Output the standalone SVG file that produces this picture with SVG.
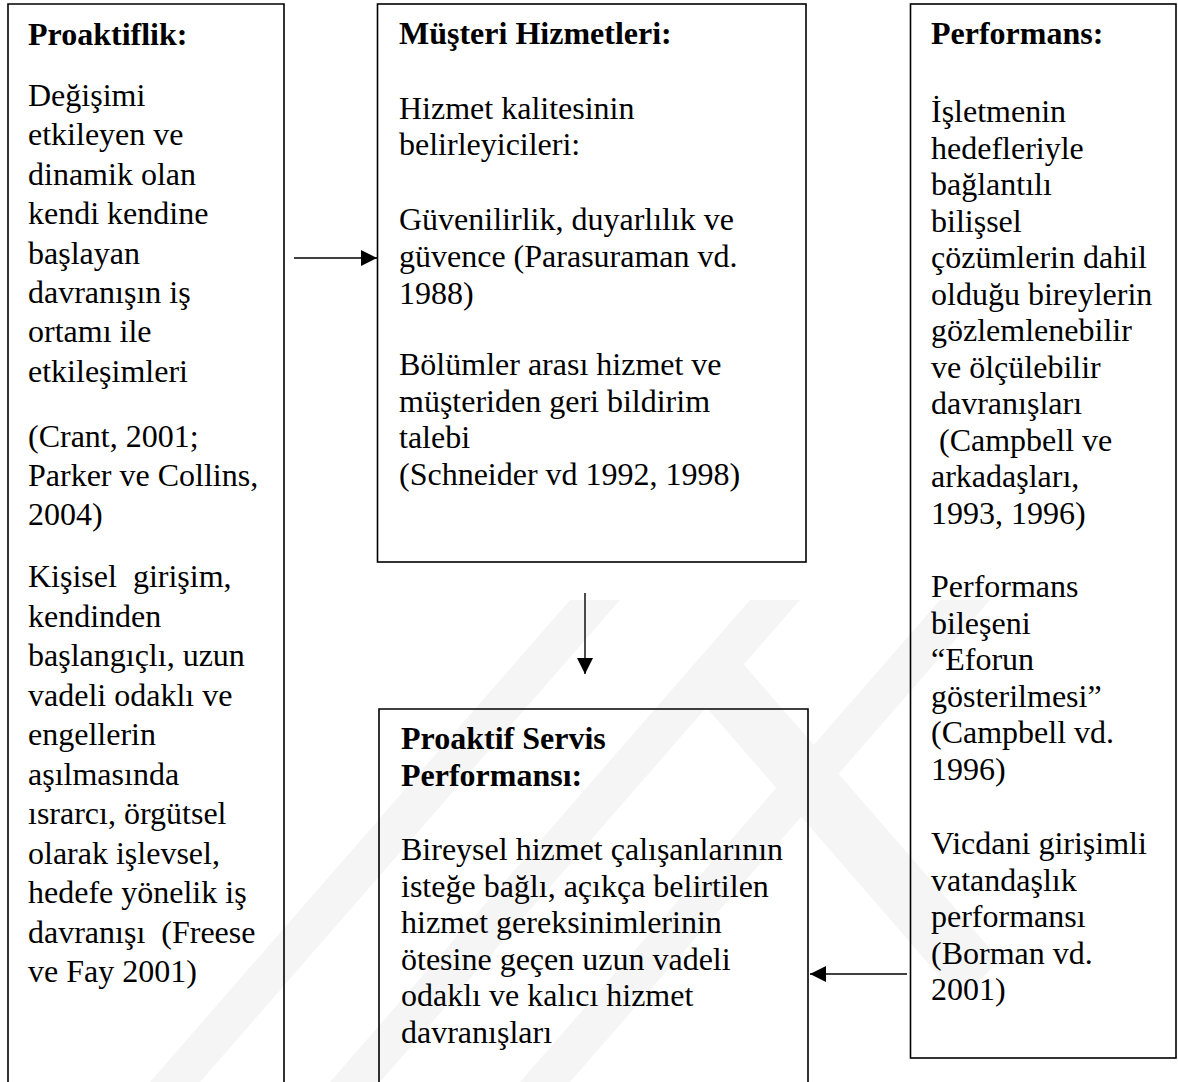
<svg xmlns="http://www.w3.org/2000/svg" width="1178" height="1082" viewBox="0 0 1178 1082">
<defs>
<style>
.box{fill:none;stroke:#000;stroke-width:1.6}
.t{font-family:"Liberation Serif","Times New Roman",serif;font-size:32px;fill:#000;white-space:pre}
.b{font-weight:bold}
.conn{stroke:#000;stroke-width:1.4;fill:none}
.wm{fill:#f5f5f5}
</style>
<marker id="ah" viewBox="0 0 16 16" refX="16" refY="8" markerWidth="16" markerHeight="16" markerUnits="userSpaceOnUse" orient="auto">
<path d="M0,0 L16,8 L0,16 Z" fill="#000"/>
</marker>
</defs>
<rect width="1178" height="1082" fill="#fff"/>
<g id="watermark">
<polygon class="wm" points="150,1082 200,1082 620,600 570,600"/>
<polygon class="wm" points="330,1082 380,1082 800,600 750,600"/>
<polygon class="wm" points="520,1082 570,1082 990,600 940,600"/>
<polygon class="wm" points="700,700 740,660 1000,960 960,1000"/>
</g>
<g id="proaktiflik">
<path class="box" d="M8,1090 V4 H284 V1090"/>
<text class="t b" x="28" y="45">Proaktiflik:</text>
<text class="t" x="28" y="106">Değişimi</text>
<text class="t" x="28" y="145.4">etkileyen ve</text>
<text class="t" x="28" y="184.8">dinamik olan</text>
<text class="t" x="28" y="224.2">kendi kendine</text>
<text class="t" x="28" y="263.6">başlayan</text>
<text class="t" x="28" y="303">davranışın iş</text>
<text class="t" x="28" y="342.4">ortamı ile</text>
<text class="t" x="28" y="381.8">etkileşimleri</text>
<text class="t" x="28" y="447">(Crant, 2001;</text>
<text class="t" x="28" y="486">Parker ve Collins,</text>
<text class="t" x="28" y="525">2004)</text>
<text class="t" x="28" y="587">Kişisel  girişim,</text>
<text class="t" x="28" y="626.5">kendinden</text>
<text class="t" x="28" y="666">başlangıçlı, uzun</text>
<text class="t" x="28" y="705.5">vadeli odaklı ve</text>
<text class="t" x="28" y="745">engellerin</text>
<text class="t" x="28" y="784.5">aşılmasında</text>
<text class="t" x="28" y="824">ısrarcı, örgütsel</text>
<text class="t" x="28" y="863.5">olarak işlevsel,</text>
<text class="t" x="28" y="903">hedefe yönelik iş</text>
<text class="t" x="28" y="942.5">davranışı  (Freese</text>
<text class="t" x="28" y="982">ve Fay 2001)</text>
</g>
<g id="musteri-hizmetleri">
<rect class="box" x="377.5" y="4" width="428.5" height="558"/>
<text class="t b" x="399" y="44">Müşteri Hizmetleri:</text>
<text class="t" x="399" y="119">Hizmet kalitesinin</text>
<text class="t" x="399" y="155">belirleyicileri:</text>
<text class="t" x="399" y="230">Güvenilirlik, duyarlılık ve</text>
<text class="t" x="399" y="267">güvence (Parasuraman vd.</text>
<text class="t" x="399" y="304">1988)</text>
<text class="t" x="399" y="375">Bölümler arası hizmet ve</text>
<text class="t" x="399" y="411.5">müşteriden geri bildirim</text>
<text class="t" x="399" y="448">talebi</text>
<text class="t" x="399" y="485">(Schneider vd 1992, 1998)</text>
</g>
<g id="performans">
<rect class="box" x="910.5" y="4" width="265.5" height="1054"/>
<text class="t b" x="931" y="44">Performans:</text>
<text class="t" x="931" y="122">İşletmenin</text>
<text class="t" x="931" y="158.5">hedefleriyle</text>
<text class="t" x="931" y="195">bağlantılı</text>
<text class="t" x="931" y="231.5">bilişsel</text>
<text class="t" x="931" y="268">çözümlerin dahil</text>
<text class="t" x="931" y="304.5">olduğu bireylerin</text>
<text class="t" x="931" y="341">gözlemlenebilir</text>
<text class="t" x="931" y="377.5">ve ölçülebilir</text>
<text class="t" x="931" y="414">davranışları</text>
<text class="t" x="931" y="450.5"> (Campbell ve</text>
<text class="t" x="931" y="487">arkadaşları,</text>
<text class="t" x="931" y="523.5">1993, 1996)</text>
<text class="t" x="931" y="597">Performans</text>
<text class="t" x="931" y="633.5">bileşeni</text>
<text class="t" x="931" y="670">“Eforun</text>
<text class="t" x="931" y="706.5">gösterilmesi”</text>
<text class="t" x="931" y="743">(Campbell vd.</text>
<text class="t" x="931" y="779.5">1996)</text>
<text class="t" x="931" y="854">Vicdani girişimli</text>
<text class="t" x="931" y="890.5">vatandaşlık</text>
<text class="t" x="931" y="927">performansı</text>
<text class="t" x="931" y="963.5">(Borman vd.</text>
<text class="t" x="931" y="1000">2001)</text>
</g>
<g id="proaktif-servis-performansi">
<path class="box" d="M379,1090 V709 H808 V1090"/>
<text class="t b" x="401" y="749">Proaktif Servis</text>
<text class="t b" x="401" y="786">Performansı:</text>
<text class="t" x="401" y="860">Bireysel hizmet çalışanlarının</text>
<text class="t" x="401" y="897">isteğe bağlı, açıkça belirtilen</text>
<text class="t" x="401" y="933">hizmet gereksinimlerinin</text>
<text class="t" x="401" y="969.5">ötesine geçen uzun vadeli</text>
<text class="t" x="401" y="1006">odaklı ve kalıcı hizmet</text>
<text class="t" x="401" y="1043">davranışları</text>
</g>
<g id="connectors">
<line class="conn" x1="294" y1="258" x2="377" y2="258" marker-end="url(#ah)"/>
<line class="conn" x1="585" y1="593" x2="585" y2="674" marker-end="url(#ah)"/>
<line class="conn" x1="907" y1="974" x2="810" y2="974" marker-end="url(#ah)"/>
</g>
</svg>
